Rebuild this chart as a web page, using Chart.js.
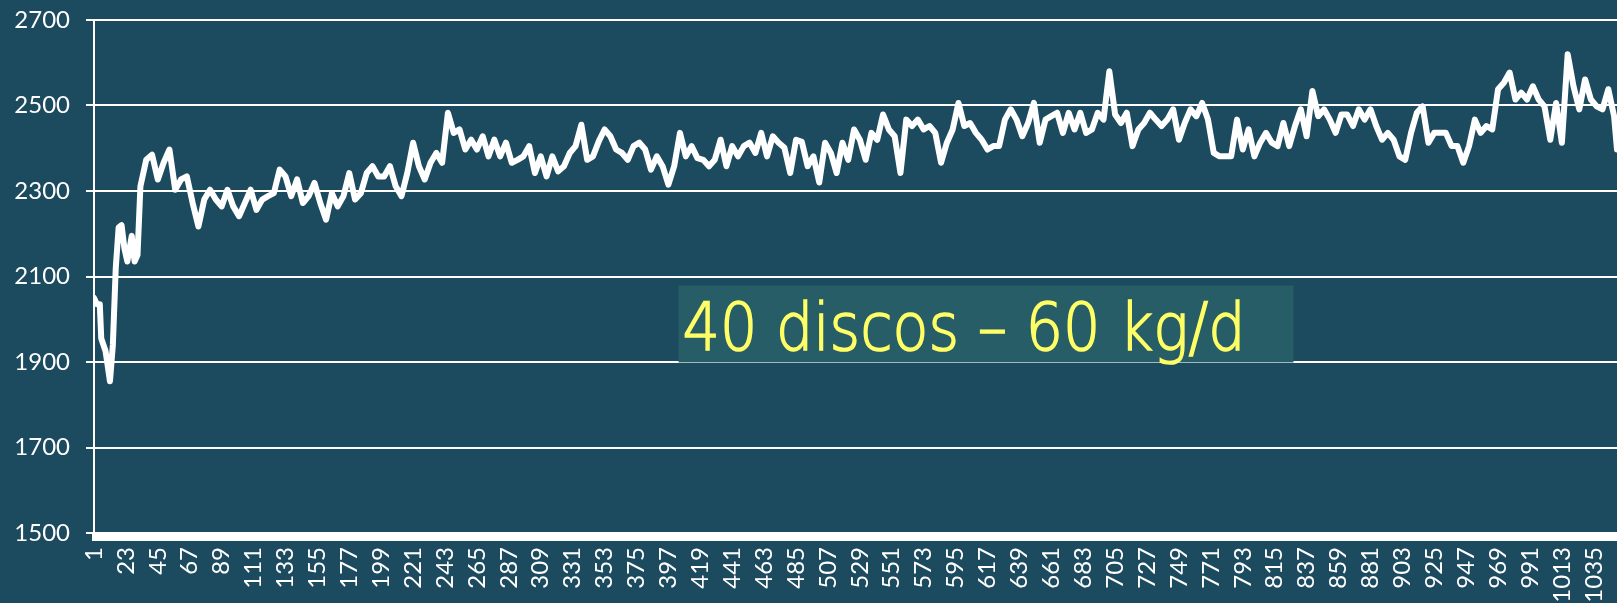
<!DOCTYPE html>
<html>
<head>
<meta charset="utf-8">
<script src="https://cdn.jsdelivr.net/npm/chart.js@4/dist/chart.umd.min.js"></script>
<style>
  html, body { margin: 0; padding: 0; background: #1c4a5e; overflow: hidden; }
  canvas { display: block; }
</style>
</head>
<body>
<canvas id="chart" width="1617" height="603"></canvas>
<script>
// dias (eje x) y valores
const days = [
  1, 3, 5, 6, 9, 12, 14, 16, 18, 20, 22, 24, 27, 29, 31,
  33, 37, 41, 45, 49, 53, 57, 61, 65, 69,
  73, 77, 81, 85, 89, 93, 97, 101, 105, 109,
  113, 117, 121, 125, 129, 133, 137, 141, 145, 149,
  153, 157, 161, 165, 169, 173, 177, 181, 185, 189,
  193, 197, 201, 205, 209, 213, 217, 221, 225, 229,
  233, 237, 241, 245, 249, 253, 257, 261, 265, 269,
  273, 277, 281, 285, 289, 293, 297, 301, 305, 309,
  313, 317, 321, 325, 329, 333, 337, 341, 345, 349,
  353, 357, 361, 365, 369, 373, 377, 381, 385, 389,
  393, 397, 401, 405, 409, 413, 417, 421, 425, 429,
  433, 437, 441, 445, 449, 453, 457, 461, 465, 469,
  473, 477, 481, 485, 489, 493, 497, 501, 505, 509,
  513, 517, 521, 525, 529, 533, 537, 541, 545, 549,
  553, 557, 561, 565, 569, 573, 577, 581, 585, 589,
  593, 597, 601, 605, 609, 613, 617, 621, 625, 629,
  633, 637, 641, 645, 649, 653, 657, 661, 665, 669,
  673, 677, 681, 685, 689, 693, 697, 701, 705, 709,
  713, 717, 721, 725, 729, 733, 737, 741, 745, 749,
  753, 757, 761, 765, 769, 773, 777, 781, 785, 789,
  793, 797, 801, 805, 809, 813, 817, 821, 825, 829,
  833, 837, 841, 845, 849, 853, 857, 861, 865, 869,
  873, 877, 881, 885, 889, 893, 897, 901, 905, 909,
  913, 917, 921, 925, 929, 933, 937, 941, 945, 949,
  953, 957, 961, 965, 969, 973, 977, 981, 985, 989,
  993, 997, 1001, 1005, 1009, 1013, 1017, 1021, 1025, 1029,
  1033, 1037, 1041, 1045, 1049, 1051
];

const values = [
  2050, 2035, 2035, 1955, 1925, 1855, 1940, 2120, 2215, 2220, 2165, 2135, 2195, 2135, 2150,
  2311, 2373, 2385, 2327, 2366, 2397, 2303, 2327, 2334, 2272,
  2217, 2280, 2303, 2280, 2264, 2303, 2264, 2241, 2272, 2303,
  2256, 2280, 2288, 2295, 2350, 2334, 2288, 2327, 2272, 2288,
  2319, 2272, 2233, 2295, 2264, 2288, 2342, 2280, 2295, 2342,
  2358, 2334, 2334, 2358, 2311, 2288, 2342, 2413, 2358, 2327,
  2366, 2389, 2366, 2483, 2436, 2444, 2397, 2420, 2397, 2428,
  2381, 2420, 2381, 2413, 2366, 2373, 2381, 2405, 2342, 2381,
  2334, 2381, 2346, 2358, 2389, 2405, 2455, 2373, 2381, 2416,
  2444, 2428, 2397, 2389, 2373, 2405, 2413, 2397, 2350, 2381,
  2358, 2315, 2358, 2436, 2381, 2405, 2377, 2373, 2358, 2373,
  2420, 2358, 2405, 2381, 2405, 2413, 2389, 2436, 2381, 2428,
  2413, 2401, 2342, 2420, 2415, 2358, 2381, 2320, 2413, 2389,
  2342, 2413, 2373, 2444, 2420, 2373, 2436, 2420, 2479, 2444,
  2428, 2342, 2467, 2452, 2467, 2444, 2452, 2436, 2366, 2413,
  2444, 2506, 2452, 2459, 2436, 2420, 2397, 2405, 2405, 2467,
  2491, 2467, 2428, 2459, 2506, 2413, 2467, 2475, 2483, 2436,
  2483, 2444, 2483, 2436, 2444, 2483, 2467, 2580, 2479, 2459,
  2483, 2405, 2444, 2459, 2483, 2467, 2452, 2467, 2491, 2420,
  2459, 2491, 2475, 2506, 2467, 2389, 2381, 2381, 2381, 2467,
  2397, 2444, 2381, 2413, 2436, 2413, 2405, 2459, 2405, 2452,
  2491, 2428, 2534, 2475, 2491, 2467, 2436, 2479, 2479, 2452,
  2491, 2467, 2491, 2452, 2420, 2436, 2420, 2381, 2373, 2436,
  2483, 2498, 2413, 2436, 2436, 2436, 2405, 2405, 2366, 2405,
  2467, 2436, 2452, 2444, 2538, 2553, 2577, 2514, 2530, 2514,
  2545, 2514, 2498, 2420, 2506, 2413, 2620, 2545, 2491, 2561,
  2514, 2498, 2491, 2538, 2475, 2397
];

const xTickLabels = [1, 23, 45, 67, 89, 111, 133, 155, 177, 199, 221, 243, 265, 287, 309, 331,
  353, 375, 397, 419, 441, 463, 485, 507, 529, 551, 573, 595, 617, 639, 661, 683, 705, 727,
  749, 771, 793, 815, 837, 859, 881, 903, 925, 947, 969, 991, 1013, 1035];
const yTicks = [1500, 1700, 1900, 2100, 2300, 2500, 2700];

// recuadro de texto (en unidades de los ejes)
const noteText = '40 discos \u2013 60 kg/d';
const noteBox = { x0: 404, x1: 828, y0: 2079, y1: 1899 };

const FONT = 'Lato, "Open Sans", "DejaVu Sans", sans-serif';

const bottomBand = {
  id: 'bottomBand',
  afterDraw(chart) {
    const { ctx, chartArea } = chart;
    ctx.save();
    ctx.fillStyle = '#ffffff';
    ctx.fillRect(chartArea.left - 2, chartArea.bottom - 1, chartArea.right - chartArea.left + 2, 9);
    ctx.restore();
  }
};

const noteLabel = {
  id: 'noteLabel',
  afterDatasetsDraw(chart) {
    const { ctx } = chart;
    const xs = chart.scales.x, ys = chart.scales.y;
    const left = xs.getPixelForValue(noteBox.x0);
    const right = xs.getPixelForValue(noteBox.x1);
    const top = ys.getPixelForValue(noteBox.y0);
    const bottom = ys.getPixelForValue(noteBox.y1);
    ctx.save();
    ctx.fillStyle = '#275d66';
    ctx.fillRect(left, top, right - left, bottom - top);
    // texto algo estrecho, como la fuente original
    ctx.translate(left + 4, top + 65);
    ctx.scale(0.89, 1);
    ctx.fillStyle = '#ffff66';
    ctx.strokeStyle = '#ffff66';
    ctx.lineWidth = 1.6;
    ctx.font = '200 66px "DejaVu Sans", sans-serif';
    ctx.textBaseline = 'alphabetic';
    ctx.textAlign = 'left';
    ctx.fillText(noteText, 0, 0);
    ctx.strokeText(noteText, 0, 0);
    ctx.restore();
  }
};

const ctx = document.getElementById('chart').getContext('2d');
const chart = new Chart(ctx, {
  type: 'line',
  data: {
    datasets: [{
      data: days.map((d, i) => ({ x: d, y: values[i] })),
      borderColor: '#ffffff',
      borderWidth: 6,
      borderJoinStyle: 'round',
      borderCapStyle: 'round',
      pointRadius: 0,
      tension: 0,
      fill: false
    }]
  },
  options: {
    responsive: false,
    animation: false,
    layout: { padding: { top: 20, right: 0, left: 0, bottom: 0 } },
    plugins: { legend: { display: false }, tooltip: { enabled: false } },
    scales: {
      x: {
        type: 'linear',
        min: 1,
        max: 1051,
        afterBuildTicks: (scale) => { scale.ticks = xTickLabels.map(v => ({ value: v })); },
        afterFit: (scale) => {
          scale.height = 70;
          scale.paddingLeft = 0;
          scale.paddingRight = 0;
        },
        grid: { display: false, drawTicks: false },
        border: { display: false },
        ticks: {
          autoSkip: false,
          maxRotation: 90,
          minRotation: 90,
          padding: 14,
          color: '#ffffff',
          font: { family: FONT, size: 24 },
          callback: (v) => String(v)
        }
      },
      y: {
        min: 1500,
        max: 2700,
        afterBuildTicks: (scale) => { scale.ticks = yTicks.map(v => ({ value: v })); },
        afterFit: (scale) => {
          scale.width = 94;
          scale.paddingTop = 0;
          scale.paddingBottom = 0;
        },
        grid: { color: '#ffffff', lineWidth: 2, tickLength: 8 },
        border: { display: true, color: '#ffffff', width: 2 },
        ticks: {
          padding: 16,
          color: '#ffffff',
          font: { family: FONT, size: 24 },
          callback: (v) => String(v)
        }
      }
    }
  },
  plugins: [bottomBand, noteLabel]
});
</script>
</body>
</html>
